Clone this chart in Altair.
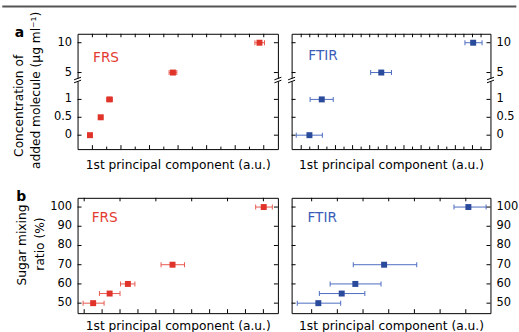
import altair as alt
import pandas as pd

# ---------------- data ----------------
# panel a: concentration of added molecule (ug/ml) vs 1st principal component
conc_frs = [0, 0.5, 1, 5, 10]
pc_frs_a = [-0.17, 0.58, 1.20, 5.64, 11.70]
lo_frs_a = [-0.27, 0.43, 1.00, 5.37, 11.38]
hi_frs_a = [-0.07, 0.73, 1.40, 5.91, 12.05]

conc_ftir = [0, 1, 5, 10]
pc_ftir_a = [0.96, 2.40, 9.35, 20.08]
lo_ftir_a = [-0.58, 1.04, 8.11, 19.12]
hi_ftir_a = [2.47, 3.74, 10.54, 21.12]

# panel b: sugar mixing ratio (%) vs 1st principal component
ratio = [50, 55, 60, 70, 100]
pc_frs_b = [0.50, 1.42, 2.44, 4.93, 10.02]
lo_frs_b = [-0.06, 0.85, 2.03, 4.29, 9.57]
hi_frs_b = [1.11, 2.00, 2.83, 5.60, 10.50]
pc_ftir_b = [0.26, 1.17, 1.70, 2.82, 6.10]
lo_ftir_b = [-0.56, 0.30, 0.72, 1.62, 5.54]
hi_ftir_b = [1.13, 2.07, 2.70, 4.09, 6.79]

# tick values and labels
yticks_a = [0, 0.5, 1, 5, 10]
ylabels_a = ["0", "0.5", "1", "5", "10"]
yticks_b = [50, 60, 70, 80, 90, 100]
ylabels_b = ["50", "60", "70", "80", "90", "100"]
xt_a_left = list(range(0, 13))
xt_a_right = list(range(0, 22))
xt_b_left_top = [0, 2, 4, 6, 8, 10]
xt_b_left_bot = list(range(0, 11))
xt_b_right = list(range(0, 7))

# ---------------- style ----------------
FONT = "DejaVu Sans"
RED, RED_L, RED_T = "#e0332a", "#e8594f", "#e33b30"
BLUE, BLUE_L, BLUE_T = "#2a4a9c", "#4d6dc0", "#3a5cb8"
WL, WR, H = 201.5, 200, 116
GAP = 13.3

dummy = pd.DataFrame({"d": [0]})


def frame(y, lo, hi, pc):
    return pd.DataFrame({"y": y, "lo": lo, "hi": hi, "pc": pc})


def panel(df, W, xdom, ydom, yrng, yticks, xt_top, xt_bot_major, xt_bot_minor,
          color, light, tcolor, name, lab_xy, label_sides, title_pad, extra):
    xs = alt.Scale(domain=xdom, nice=False, zero=False)
    ys = alt.Scale(domain=ydom, range=yrng, nice=False, zero=False)
    xaxis = alt.Axis(title="1st principal component (a.u.)", labels=False, ticks=False,
                     domain=False, grid=False, titlePadding=title_pad, titleFontSize=12.3,
                     titleFontWeight="normal", titleColor="black", titleFont=FONT)
    X = lambda f: alt.X(f, scale=xs, axis=xaxis)
    Y = lambda f: alt.Y(f, scale=ys, axis=None)
    base = alt.Chart(df)
    err = base.mark_rule(color=light, strokeWidth=1).encode(
        x=X("lo:Q"), x2="hi:Q", y=Y("y:Q"))
    capl = base.mark_tick(orient="vertical", size=5, thickness=1, color=light, opacity=1).encode(
        x=X("lo:Q"), y=Y("y:Q"))
    capr = base.mark_tick(orient="vertical", size=5, thickness=1, color=light, opacity=1).encode(
        x=X("hi:Q"), y=Y("y:Q"))
    pts = base.mark_square(size=36, color=color, opacity=1).encode(
        x=X("pc:Q"), y=Y("y:Q"))

    yt = alt.Chart(pd.DataFrame({"t": yticks}))
    ytl = yt.mark_rule(color="black", strokeWidth=1).encode(
        y=Y("t:Q"), x=alt.value(0), x2=alt.value(4))
    ytr = yt.mark_rule(color="black", strokeWidth=1).encode(
        y=Y("t:Q"), x=alt.value(W - 4), x2=alt.value(W))
    xtt = alt.Chart(pd.DataFrame({"t": xt_top})).mark_rule(color="black", strokeWidth=1).encode(
        x=X("t:Q"), y=alt.value(0), y2=alt.value(3.5))
    layers = [err, capl, capr, pts, ytl, ytr, xtt]
    if xt_bot_major:
        layers.append(alt.Chart(pd.DataFrame({"t": xt_bot_major})).mark_rule(
            color="black", strokeWidth=1).encode(
            x=X("t:Q"), y=alt.value(H - 4), y2=alt.value(H)))
    if xt_bot_minor:
        layers.append(alt.Chart(pd.DataFrame({"t": xt_bot_minor})).mark_rule(
            color="black", strokeWidth=1).encode(
            x=X("t:Q"), y=alt.value(H - 2.5), y2=alt.value(H)))
    lab = alt.Chart(pd.DataFrame({"s": [name]})).mark_text(
        align="left", baseline="middle", font=FONT, fontSize=13.7, color=tcolor).encode(
        x=alt.value(lab_xy[0]), y=alt.value(lab_xy[1]), text="s:N")
    layers.append(lab)
    layers.extend(extra)
    # y tick labels: (side tag, tick values, tick labels, x position, align)
    for tag, vals, labs, xpos, al in label_sides:
        ylt = alt.Chart(pd.DataFrame({"tv": vals, "lab": labs, "side": tag}))
        layers.append(ylt.mark_text(align=al, baseline="middle", font=FONT, fontSize=11.5,
                                    color="black").encode(
            y=Y("tv:Q"), x=alt.value(xpos), text="lab:N"))
    return alt.layer(*layers).properties(width=W, height=H)


def brk(xc, yc=46.5):
    d = alt.Chart(dummy)
    return [
        d.mark_rule(color="white", strokeWidth=3).encode(
            x=alt.value(xc), y=alt.value(yc - 1.5), y2=alt.value(yc + 1.5)),
        d.mark_rule(color="black", strokeWidth=1).encode(
            x=alt.value(xc - 3.5), x2=alt.value(xc + 3.5),
            y=alt.value(yc - 0.2), y2=alt.value(yc - 2.8)),
        d.mark_rule(color="black", strokeWidth=1).encode(
            x=alt.value(xc - 3.5), x2=alt.value(xc + 3.5),
            y=alt.value(yc + 2.8), y2=alt.value(yc + 0.2)),
    ]


def vtext(s, x, y, size=12.3, weight="normal", angle=270):
    return alt.Chart(pd.DataFrame({"s": [s]})).mark_text(
        align="center", baseline="middle", font=FONT, fontSize=size,
        fontWeight=weight, angle=angle, color="black").encode(
        x=alt.value(x), y=alt.value(y), text="s:N")


ydom_a = [-0.389, 1.542, 3.75, 11.5]
yrng_a = [H, 46.5, 46.5, 0]
ydom_b = [44.8, 104.8]
yrng_b = [H, 0]

d0 = alt.Chart(dummy)
tl_extra = brk(0) + brk(WL) + [
    d0.mark_rule(color="#555555", strokeWidth=2).encode(
        x=alt.value(-75.7), x2=alt.value(441.3), y=alt.value(-27.4)),
    d0.mark_rule(color="white", strokeWidth=1).encode(
        x=alt.value(-70), x2=alt.value(-60), y=alt.value(-31.2)),
    vtext("Concentration of", -59.2, 72.5),
    vtext("added molecule (µg ml⁻¹)", -41.7, 57),
    vtext("a", -58.4, -1, size=14, weight="bold", angle=0),
]
bl_extra = [
    vtext("Sugar mixing", -55.7, 47.5),
    vtext("ratio (%)", -37.7, 46.5),
    vtext("b", -56.7, -0.5, size=14, weight="bold", angle=0),
]

# top-row left labels: whole-number ticks right-aligned, the "0.5" tick left-aligned
whole_a = [v for v in yticks_a if v != 0.5]
whole_lab_a = [l for v, l in zip(yticks_a, ylabels_a) if v != 0.5]
half_a = [v for v in yticks_a if v == 0.5]
half_lab_a = [l for v, l in zip(yticks_a, ylabels_a) if v == 0.5]

tl = panel(frame(conc_frs, lo_frs_a, hi_frs_a, pc_frs_a), WL, [-1.04, 12.99],
           ydom_a, yrng_a, yticks_a, xt_a_left,
           [t for t in xt_a_left if t % 2 == 0], [t for t in xt_a_left if t % 2 == 1],
           RED, RED_L, RED_T, "FRS", (15.6, 24.3),
           [("lw", whole_a, whole_lab_a, -5.5, "right"),
            ("lh", half_a, half_lab_a, -23.8, "left")], 10, tl_extra)
tr = panel(frame(conc_ftir, lo_ftir_a, hi_ftir_a, pc_ftir_a), WR, [-1.12, 22.1],
           ydom_a, yrng_a, yticks_a, xt_a_right,
           [t for t in xt_a_right if t % 2 == 0], [t for t in xt_a_right if t % 2 == 1],
           BLUE, BLUE_L, BLUE_T, "FTIR", (16.8, 22.6),
           [("right", yticks_a, ylabels_a, WR + 6, "left")],
           10, brk(0) + brk(WR))
bl = panel(frame(ratio, lo_frs_b, hi_frs_b, pc_frs_b), WL, [-0.37, 10.81],
           ydom_b, yrng_b, yticks_b, xt_b_left_top, xt_b_left_bot, [],
           RED, RED_L, RED_T, "FRS", (14.3, 20),
           [("left", yticks_b, ylabels_b, -5.5, "right")], 6.5, bl_extra)
br = panel(frame(ratio, lo_ftir_b, hi_ftir_b, pc_ftir_b), WR, [-0.78, 6.96],
           ydom_b, yrng_b, yticks_b, xt_b_right, xt_b_right, [],
           BLUE, BLUE_L, BLUE_T, "FTIR", (16, 20),
           [("right", yticks_b, ylabels_b, WR + 6, "left")], 6.5, [])

chart = alt.concat(tl, tr, bl, br, columns=2, spacing={"row": 49, "column": GAP},
                   bounds="flush").properties(
    padding=0, background="white"
).configure_view(stroke="black", strokeWidth=1)

chart.save("out.html", embed_options={"renderer": "svg", "actions": False})
